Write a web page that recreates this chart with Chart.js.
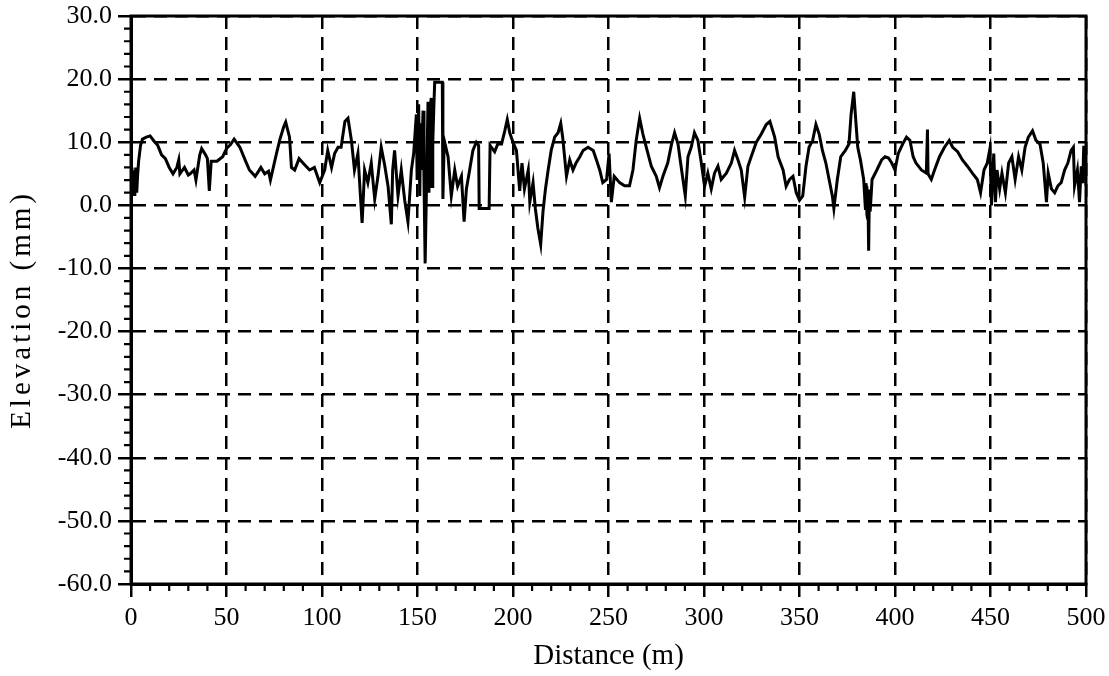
<!DOCTYPE html>
<html>
<head>
<meta charset="utf-8">
<script src="https://cdn.jsdelivr.net/npm/chart.js@4.4.1/dist/chart.umd.min.js"></script>
<style>
  html, body { margin: 0; padding: 0; background: #fff; }
  #wrap { width: 1109px; height: 676px; }
</style>
</head>
<body>
<div id="wrap"><canvas id="profileChart" width="1109" height="676"></canvas></div>
<script>
// road profile, distance (m) vs elevation (mm)
const distance = [
  0, 0.5, 1, 1.5, 2, 2.5, 3, 3.5, 4, 5, 6, 8, 10, 12, 14, 16, 18, 20, 22, 24,
  25, 25.6, 28, 30, 31, 33, 34, 36, 37, 39, 40, 41, 42, 45, 48, 50, 52, 54, 57, 60,
  62, 65, 67, 68, 70, 72, 73, 76, 78, 80, 81, 83, 84, 85.7, 88, 91, 93.5, 96, 98.8, 101.4,
  103, 105, 106.6, 108.4, 110, 112, 113.6, 115.4, 117, 118.8, 119.7, 121, 122.3, 124, 125.8, 127.6, 129.3, 131, 132.8, 134.6,
  136.3, 137, 138, 139.8, 141.5, 143.3, 145, 146.8, 148, 149.4, 149.8, 150.6, 151.2, 151.6, 152, 152.9, 153.4, 154, 155.5, 156,
  156.6, 157.2, 157.6, 158, 158.5, 159, 163, 163.3,
  164, 166, 167.7, 169.5, 171, 173, 174.4, 175.6, 177.3, 179, 180.8, 182, 182.3, 187.5, 188, 188.7, 190.4, 192, 194, 195.7,
  197, 198.3, 200, 201.8, 203.5, 204.7, 206, 208, 208.8, 210.5, 211.7, 213, 214.5, 215.7, 217, 218.4, 220, 221.8, 223.6, 225,
  226, 228, 229.7, 231.4, 233, 235, 236.7, 239.3, 242, 243.7, 245.4, 247, 249, 250.3, 251.5, 253, 255.8, 258.4, 261, 262.8,
  264.5, 266.3, 268, 269.8, 272.4, 275, 276.7, 278.5, 281, 283, 284.6, 286.4, 288, 290.2, 291.6, 293.3, 295, 296.8, 298.6, 300.3,
  302, 303.8, 305.5, 307.3, 309, 311.7, 314.3, 316, 317.8, 319.5, 321.3, 323, 324.7, 327.4, 330, 332.6, 334.5, 337, 338.8, 341.4,
  343, 344.8, 346.6, 348.3, 350, 351.7, 353.4, 355, 356.9, 358.6, 360.3, 362, 363.8, 365.5, 367.2, 368, 369.8, 371.6, 374, 375.9,
  377, 378.4, 379.5, 380.5, 381.9, 383.6, 384.5, 384.8, 385, 385.3, 385.6, 385.8, 386.2, 386.6, 387, 388, 390.5, 393, 394.8, 396.6,
  398.3, 400, 401.7,
  404, 406, 407.8, 409.5, 411, 413.8, 416.4, 417, 417.3, 419, 420.7, 423.3, 425.9, 428.4, 430.2, 432.8, 435.3, 437.9, 440.5, 443.1,
  444.8, 446.6, 448.3, 449.7, 450.5, 451.7, 452.6, 453.4, 454.8, 456, 457.8, 459.5, 461.2, 462.9, 464.7, 466.4, 468.1, 469.8, 472, 473.8,
  475.9, 477.6, 479.3, 480.2, 481.9, 483.6, 485.3, 487, 488.8, 490.5, 492.2, 493.4, 494, 495.5, 496.6, 497.5, 498.3, 498.8, 499.7, 500
];
const elevation = [
  3, 6, 1.5, 5.5, 1.5, 6, 2, 5, 7, 9.5, 10.5, 10.8, 11, 10.2, 9.5, 8, 7.4, 6, 5, 6,
  7.2, 5, 6, 4.8, 5, 5.6, 4, 8, 9, 8, 7.4, 2.3, 7, 7, 7.7, 9, 9.6, 10.5, 9.2, 7,
  5.6, 4.6, 5.5, 6, 5, 5.4, 4, 8, 10.5, 12.5, 13.2, 10.8, 6, 5.6, 7.4, 6.4, 5.6, 6, 3.6, 5.6,
  8.7, 6, 8.2, 9.2, 9.2, 13.3, 13.8, 10.3, 5.6, 8.2, 3.6, -2.8, 5.6, 3.6, 6.7, 1, 4.6, 9.2, 6.4, 3,
  -3, 5.6, 8.7, 1.5, 5.6, 0.8, -2.6, 5.6, 8.2, 14.4, 4, 16, 1.5, 13, 5.6, 15, 4, -9.2, 16.4, 2,
  15.5, 17, 3, 10, 15, 19.5, 19.5, 1,
  10.3, 7.7, 1.5, 5.6, 3, 4.6, -2.6, 2.6, 5.6, 8.7, 10, 9.5, -0.5, -0.5, 9.5, 9.2, 8.5, 9.7, 9.7, 11.8,
  13.6, 11.5, 10, 8.7, 2.3, 6.7, 2.6, 5.6, 0.5, 3.6, -0.5, -3.6, -6.2, -1, 2.6, 5.6, 8.7, 10.8, 11.5, 13,
  10.8, 4.6, 7.2, 5.6, 6.7, 7.7, 8.7, 9.2, 8.7, 7.2, 5.6, 3.6, 4.1, 8.2, 0.5, 4.6, 3.6, 3.1, 3.1, 5.6,
  10.3, 13.8, 11.3, 9.2, 6.2, 4.6, 2.8, 4.6, 6.7, 9.7, 11.5, 9.7, 6.2, 1.5, 7.7, 9.2, 11.5, 10.3, 6.7, 3,
  5.1, 2.6, 5.1, 6.2, 4.1, 5.1, 6.7, 8.7, 7.2, 5.6, 1.3, 6.2, 7.7, 10, 11.3, 12.8, 13.3, 10.8, 7.7, 5.6,
  3, 4.1, 4.6, 2, 0.8, 1.5, 6.2, 9.2, 10.3, 12.8, 11.3, 8.7, 6.7, 4.1, 1.5, -0.5, 4.1, 7.7, 8.7, 9.7,
  14.4, 18, 13.3, 9.2, 7.2, 4.1, -0.5, 3.5, 3, -1.5, -2, 2, -7.2, 2.5, -1, 4.1, 5.6, 7.2, 7.7, 7.5,
  6.7, 5.6, 8.2,
  9.7, 10.8, 10.3, 7.7, 6.7, 5.6, 5.1, 12, 5, 4.1, 5.6, 7.7, 9.2, 10.3, 9.2, 8.5, 7.2, 6.2, 5.1, 4.1,
  2, 5.6, 6.7, 9, 0, 8.2, 0.5, 5.6, 2.6, 5.1, 2, 6.7, 7.7, 4.1, 7.7, 5.6, 9.2, 10.8, 11.8, 10.3,
  9.7, 6.7, 0.5, 5.1, 2.6, 2, 3.1, 3.6, 5.6, 6.7, 8.7, 9.2, 3.1, 5.6, 0.5, 6.2, 3.5, 9.2, 9.2, 3.1
];

const xTicks = [0, 50, 100, 150, 200, 250, 300, 350, 400, 450, 500];
const yTicks = [-60, -50, -40, -30, -20, -10, 0, 10, 20, 30];
const yTitle = 'Elevation (mm)';

const points = distance.map((d, i) => ({ x: d, y: elevation[i] }));
const serif = 'Liberation Serif, "Times New Roman", serif';

// frame on top/right, minor ticks, and the stretched y title
const frameAndMinor = {
  id: 'frameAndMinor',
  afterDraw(chart) {
    const { ctx, chartArea: a, scales } = chart;
    ctx.save();
    ctx.strokeStyle = '#000';
    ctx.lineWidth = 3;
    ctx.strokeRect(a.left, a.top, a.right - a.left, a.bottom - a.top);

    ctx.lineWidth = 2.2;
    ctx.beginPath();
    for (let v = 0; v <= 500; v += 10) {
      if (v % 50 === 0) continue;
      const px = scales.x.getPixelForValue(v);
      ctx.moveTo(px, a.bottom);
      ctx.lineTo(px, a.bottom + 7);
    }
    for (let v = -60; v <= 30; v += 2) {
      if (v % 10 === 0) continue;
      const py = scales.y.getPixelForValue(v);
      ctx.moveTo(a.left, py);
      ctx.lineTo(a.left - 7, py);
    }
    ctx.stroke();

    // y axis title, a bit spread out like the scan
    ctx.translate(22, scales.y.getPixelForValue(-16.5));
    ctx.rotate(-Math.PI / 2);
    ctx.font = '29px ' + serif;
    ctx.fillStyle = '#000';
    ctx.textAlign = 'center';
    ctx.textBaseline = 'middle';
    if ('letterSpacing' in ctx) ctx.letterSpacing = '4px';
    ctx.fillText(yTitle, 0, 0);
    ctx.restore();
  }
};

const gridOpts = {
  color: '#000',
  lineWidth: 2.5,
  tickLength: 13,
  tickColor: '#000',
  tickWidth: 2.5,
  tickBorderDash: []
};

const ctx = document.getElementById('profileChart').getContext('2d');
const profileChart = new Chart(ctx, {
  type: 'line',
  data: {
    datasets: [{
      label: 'Elevation',
      data: points,
      borderColor: '#000',
      borderWidth: 3,
      pointRadius: 0,
      tension: 0,
      fill: false
    }]
  },
  options: {
    responsive: false,
    animation: false,
    layout: { padding: { top: 16, right: 23, left: 0, bottom: 0 } },
    plugins: { legend: { display: false }, tooltip: { enabled: false } },
    scales: {
      x: {
        type: 'linear',
        min: 0,
        max: 500,
        afterBuildTicks: s => { s.ticks = xTicks.map(v => ({ value: v })); },
        afterFit: s => { s.height = 92; s.paddingLeft = 0; s.paddingRight = 0; },
        ticks: {
          color: '#000',
          padding: 6,
          maxRotation: 0,
          font: { family: serif, size: 26 },
          callback: v => String(v)
        },
        grid: gridOpts,
        border: { display: true, color: '#000', width: 3, dash: [13, 8] },
        title: {
          display: true,
          text: 'Distance (m)',
          color: '#000',
          font: { family: serif, size: 29 },
          padding: { top: 0, bottom: 2 }
        }
      },
      y: {
        type: 'linear',
        min: -60,
        max: 30,
        afterBuildTicks: s => { s.ticks = yTicks.map(v => ({ value: v })); },
        afterFit: s => { s.width = 131; s.paddingTop = 0; s.paddingBottom = 0; },
        ticks: {
          color: '#000',
          padding: 6,
          font: { family: serif, size: 26 },
          callback: v => v.toFixed(1)
        },
        grid: gridOpts,
        border: { display: true, color: '#000', width: 3, dash: [13, 8] },
        title: { display: false }
      }
    }
  },
  plugins: [frameAndMinor]
});
</script>
</body>
</html>
